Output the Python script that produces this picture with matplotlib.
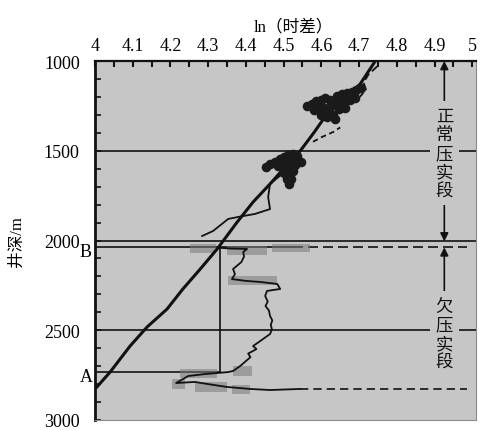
import matplotlib
matplotlib.use("Agg")
import matplotlib.pyplot as plt
from matplotlib.patches import Rectangle

# ---- data (ln of interval transit time vs. depth) ----
trend_ln = [4.005, 4.040, 4.093, 4.138, 4.191, 4.233, 4.279, 4.324, 4.377,
            4.419, 4.464, 4.500, 4.544, 4.580, 4.615, 4.660, 4.703, 4.743]
trend_depth = [2816, 2733, 2588, 2482, 2382, 2270, 2159, 2047, 1897,
               1786, 1685, 1600, 1501, 1400, 1295, 1210, 1128, 1000]

# thin measured curve, normal compaction section
norm_ln = [4.284, 4.313, 4.353, 4.379, 4.424, 4.464, 4.459, 4.464, 4.49, 4.53]
norm_depth = [1975, 1947, 1880, 1869, 1852, 1825, 1758, 1685, 1640, 1580]

# broken fragments near the top
frag1_ln = [4.748, 4.725, 4.712, 4.718, 4.702]
frag1_depth = [1030, 1075, 1120, 1160, 1200]
frag2_ln = [4.578, 4.600, 4.632, 4.650]
frag2_depth = [1450, 1425, 1395, 1370]

# dense blobs of points
blob_ln = [4.452, 4.465, 4.478, 4.490, 4.500, 4.512, 4.524, 4.536, 4.546,
           4.485, 4.498, 4.510, 4.522, 4.534, 4.505, 4.518, 4.530, 4.500, 4.512, 4.524,
           4.508, 4.520, 4.515,
           4.562, 4.574, 4.586, 4.598, 4.610, 4.622, 4.580, 4.594, 4.608, 4.622,
           4.600, 4.614, 4.630, 4.642, 4.655, 4.668, 4.680, 4.692, 4.704,
           4.640, 4.652, 4.664, 4.676, 4.690, 4.648, 4.662, 4.636]
blob_depth = [1590, 1575, 1560, 1548, 1535, 1525, 1520, 1530, 1560,
              1585, 1570, 1555, 1548, 1545, 1600, 1595, 1580, 1625, 1630, 1615,
              1655, 1660, 1685,
              1250, 1238, 1225, 1215, 1208, 1215, 1275, 1270, 1262, 1255,
              1300, 1310, 1300, 1195, 1185, 1180, 1175, 1160, 1150,
              1240, 1232, 1225, 1215, 1205, 1265, 1260, 1325]

# measured curve, under-compacted section
uc_ln = [4.326, 4.36, 4.403, 4.393, 4.395, 4.388, 4.366, 4.371, 4.363, 4.40, 4.438, 4.483,
         4.491, 4.456, 4.451, 4.458, 4.452, 4.461, 4.464, 4.470, 4.466, 4.469, 4.464,
         4.438, 4.419, 4.428, 4.406, 4.412, 4.385, 4.366, 4.353, 4.292, 4.247, 4.215,
         4.265, 4.30, 4.35, 4.411, 4.464, 4.544]
uc_depth = [2040, 2045, 2047, 2064, 2090, 2120, 2159, 2187, 2215, 2225, 2231, 2242,
            2270, 2281, 2309, 2340, 2365, 2390, 2420, 2445, 2470, 2495, 2521,
            2560, 2588, 2605, 2630, 2650, 2699, 2727, 2733, 2744, 2755, 2794,
            2788, 2800, 2816, 2827, 2833, 2827]

# grey bands (ln_left, ln_right, depth_top, depth_bottom)
band_left = [4.252, 4.35, 4.47, 4.353, 4.225, 4.366, 4.204, 4.265, 4.363]
band_right = [4.32, 4.455, 4.57, 4.483, 4.324, 4.416, 4.239, 4.35, 4.411]
band_top = [2020, 2030, 2020, 2198, 2716, 2699, 2772, 2788, 2805]
band_bottom = [2070, 2080, 2065, 2248, 2766, 2755, 2827, 2844, 2855]

depth_normal_end = 2005
depth_B = 2038
depth_A = 2733
ln_AB = 4.332
depth_base = 2827
ln_arrow = 4.926

x_ticks = [4.0, 4.1, 4.2, 4.3, 4.4, 4.5, 4.6, 4.7, 4.8, 4.9, 5.0]
x_labels = ["4", "4.1", "4.2", "4.3", "4.4", "4.5", "4.6", "4.7", "4.8", "4.9", "5"]
y_ticks = [1000, 1500, 2000, 2500, 3000]

serif = ["Liberation Serif", "Noto Sans CJK SC"]
cjk = ["Noto Sans CJK SC", "DejaVu Sans"]
bg = "#c6c6c6"
ink = "#111111"

fig = plt.figure(figsize=(4.8, 4.31), dpi=100)
ax = fig.add_axes([95 / 480, 1 - 421 / 431, (476 - 95) / 480, (421 - 62) / 431])
ax.set_facecolor(bg)
ax.set_xlim(4.0, 5.01)
ax.set_ylim(3000, 1000)

# reference lines
ax.axhline(1500, color=ink, lw=1.2, zorder=2)
ax.axhline(2500, color=ink, lw=1.2, zorder=2)
ax.axhline(depth_normal_end, color=ink, lw=1.2, zorder=2)
ax.plot([4.0, 4.525], [depth_B, depth_B], color=ink, lw=1.2, zorder=2)
ax.plot([4.525, 4.985], [depth_B, depth_B], color=ink, lw=1.2, ls=(0, (6, 3)), zorder=2)
ax.plot([4.0, ln_AB], [depth_A, depth_A], color=ink, lw=1.2, zorder=2)
ax.plot([ln_AB, ln_AB], [depth_B, depth_A], color=ink, lw=1.2, zorder=2)
ax.plot([4.544, 4.985], [depth_base, depth_base], color=ink, lw=1.2, ls=(0, (5, 3)), zorder=2)

# grey bands
for l, r, t, b in zip(band_left, band_right, band_top, band_bottom):
    ax.add_patch(Rectangle((l, t), r - l, b - t, facecolor="#7a7a7a",
                           edgecolor="none", alpha=0.55, zorder=3))

# curves
ax.plot(trend_ln, trend_depth, color=ink, lw=2.2, zorder=4)
ax.plot(norm_ln, norm_depth, color=ink, lw=1.3, zorder=4)
ax.plot(uc_ln, uc_depth, color=ink, lw=1.3, zorder=4)
ax.plot(frag1_ln, frag1_depth, color=ink, lw=1.3, ls=(0, (4, 2)), zorder=4)
ax.plot(frag2_ln, frag2_depth, color=ink, lw=1.3, ls=(0, (3, 2)), zorder=4)
ax.scatter(blob_ln, blob_depth, s=48, marker="o", color="#1a1a1a", lw=0, zorder=4)

# section arrows and labels
ax.annotate("", xy=(ln_arrow, 1000), xytext=(ln_arrow, depth_normal_end),
            arrowprops=dict(arrowstyle="<|-|>", color=ink, lw=1.2,
                            mutation_scale=12, shrinkA=0, shrinkB=0), zorder=5)
ax.annotate("", xy=(ln_arrow, depth_B), xytext=(ln_arrow, 2300),
            arrowprops=dict(arrowstyle="-|>", color=ink, lw=1.2,
                            mutation_scale=12, shrinkA=0, shrinkB=0), zorder=5)
ax.text(ln_arrow, 1513, "正\n常\n压\n实\n段", family=cjk, fontsize=12.5,
        ha="center", va="center", linespacing=1.05, color=ink, zorder=6,
        bbox=dict(facecolor=bg, edgecolor="none", pad=4))
ax.text(ln_arrow, 2521, "欠\n压\n实\n段", family=cjk, fontsize=12.5,
        ha="center", va="center", linespacing=1.05, color=ink, zorder=6,
        bbox=dict(facecolor=bg, edgecolor="none", pad=4))

ax.text(3.976, 2060, "B", family=serif, fontsize=13, ha="center", va="center", clip_on=False)
ax.text(3.976, 2755, "A", family=serif, fontsize=13, ha="center", va="center", clip_on=False)

# axes styling
ax.xaxis.tick_top()
ax.set_xticks([4.0 + 0.05 * i for i in range(21)], minor=True)
ax.set_xticks(x_ticks)
ax.set_xticklabels(x_labels, family=serif, fontsize=13)
ax.set_yticks(y_ticks)
ax.set_yticklabels([str(v) for v in y_ticks], family=serif, fontsize=13)
ax.set_yticks(range(1000, 3001, 100), minor=True)
ax.tick_params(axis="x", which="both", direction="in", length=4, width=1.5,
               top=True, bottom=False, pad=5, color=ink)
ax.tick_params(axis="y", which="both", direction="in", length=4, width=1.2,
               left=True, right=False, pad=11, color=ink)
ax.spines["left"].set_linewidth(2)
ax.spines["left"].set_color(ink)
ax.spines["top"].set_linewidth(1.6)
ax.spines["top"].set_color(ink)
ax.spines["right"].set_color("#8a8a8a")
ax.spines["bottom"].set_color("#8a8a8a")

fig.text(293 / 480, 1 - 27 / 431, "ln（时差）", family=serif, fontsize=12,
         ha="center", va="center")
fig.text(17 / 480, 1 - 242 / 431, "井深/m", family=serif, fontsize=12,
         rotation=90, ha="center", va="center")

fig.savefig("out.png", dpi=100, facecolor="white")
